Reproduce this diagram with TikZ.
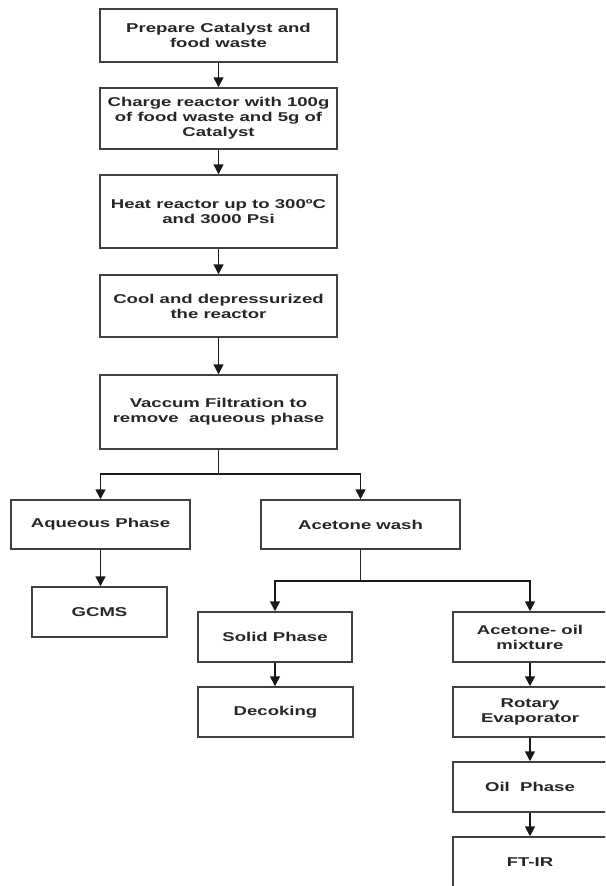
\documentclass[tikz,border=0pt]{standalone}
\usepackage{fontspec}
\setmainfont[FakeStretch=1.45]{Liberation Sans}
\usetikzlibrary{arrows.meta}
\begin{document}
\begin{tikzpicture}[x=1pt,y=-1pt,
  box/.style={draw=black!75, line width=1.5pt, fill=white, align=center,
    font=\fontsize{12.8}{15}\selectfont\bfseries, text=black!85, inner sep=0pt},
  arr/.style={draw=black!90, line width=1.6pt, -{Triangle[length=10pt,width=10pt]}},
  ln/.style={draw=black!85, line width=1.6pt}]
\clip (0,0) rectangle (605,886);
\fill[white] (0,0) rectangle (605,886);
% main column
\node[box, minimum width=237pt, minimum height=53pt] (b1) at (218.5,35.5) {Prepare Catalyst and\\food waste};
\node[box, minimum width=237pt, minimum height=61pt] (b2) at (218.5,118.5) {Charge reactor with 100g\\of food waste and 5g of\\Catalyst};
\node[box, minimum width=237pt, minimum height=73pt] (b3) at (218.5,211.5) {Heat reactor up to 300ºC\\and 3000 Psi};
\node[box, minimum width=237pt, minimum height=62pt] (b4) at (218.5,306) {Cool and depressurized\\the reactor};
\node[box, minimum width=237pt, minimum height=74pt] (b5) at (218.5,412) {Vaccum Filtration to\\remove\ \ aqueous phase};
% second level
\node[box, minimum width=179pt, minimum height=49pt] (aq) at (100.5,524.5) {Aqueous Phase};
\node[box, minimum width=199pt, minimum height=49pt] (aw) at (360.5,524.5) {Acetone wash};
\node[box, minimum width=135pt, minimum height=50pt] (gc) at (99.5,612) {GCMS};
% third level
\node[box, minimum width=154pt, minimum height=50pt] (sp) at (275,637) {Solid Phase};
\node[box, minimum width=154pt, minimum height=50pt] (ao) at (530,637) {Acetone- oil\\mixture};
\node[box, minimum width=155pt, minimum height=50pt] (dk) at (275.5,712) {Decoking};
\node[box, minimum width=154pt, minimum height=50pt] (ro) at (530,712) {Rotary\\Evaporator};
\node[box, minimum width=154pt, minimum height=50pt] (op) at (530,787) {Oil\ \ Phase};
\node[box, minimum width=154pt, minimum height=50pt] (ft) at (530,862) {FT-IR};
% connectors
\draw[arr] (b1.south) -- (b2.north);
\draw[arr] (b2.south) -- (b3.north);
\draw[arr] (b3.south) -- (b4.north);
\draw[arr] (b4.south) -- (b5.north);
\coordinate (j1) at (218.5,474);
\draw[ln] (b5.south) -- (j1);
\draw[arr] (j1) -| (aq.north);
\draw[arr] (j1) -| (aw.north);
\draw[arr] (aq.south) -- (aq.south |- gc.north);
\coordinate (j2) at (360.5,581);
\draw[ln] (aw.south) -- (j2);
\draw[arr] (j2) -| (sp.north);
\draw[arr] (j2) -| (ao.north);
\draw[arr] (sp.south) -- (sp.south |- dk.north);
\draw[arr] (ao.south) -- (ro.north);
\draw[arr] (ro.south) -- (op.north);
\draw[arr] (op.south) -- (ft.north);
\end{tikzpicture}
\end{document}
